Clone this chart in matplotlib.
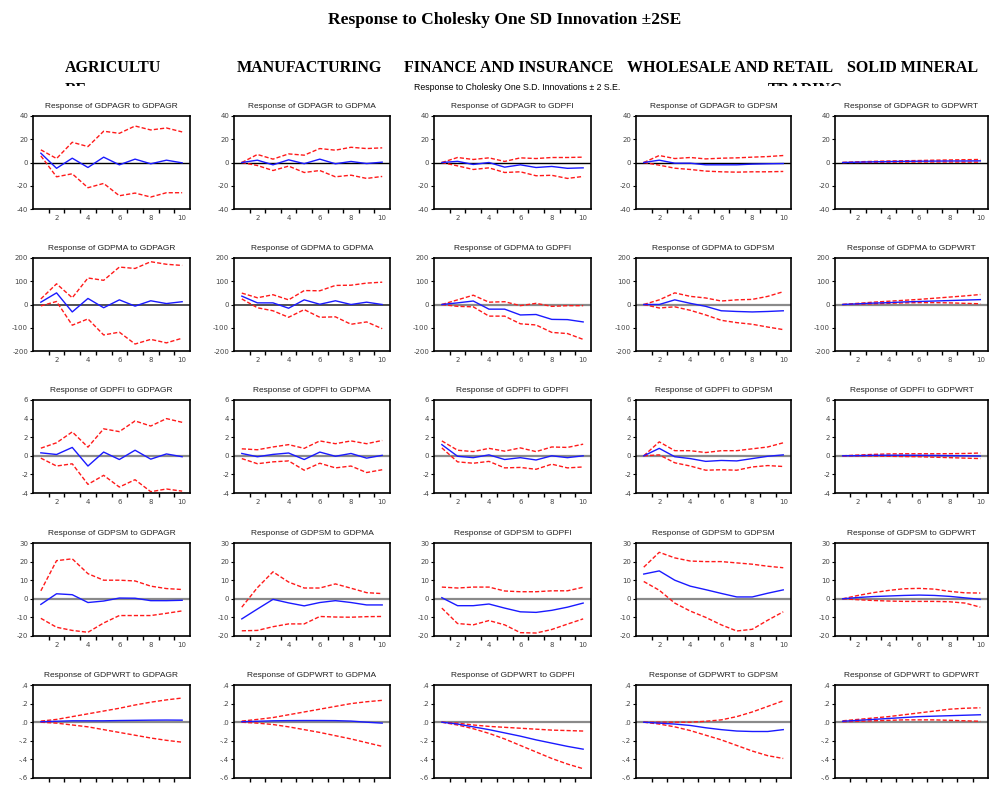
import matplotlib
matplotlib.use("Agg")
import matplotlib.pyplot as plt
import numpy as np
from matplotlib.transforms import Bbox

# ---------------- data ----------------
periods = list(range(1, 11))
shocks = ["GDPAGR", "GDPMA", "GDPFI", "GDPSM", "GDPWRT"]
responses = ["GDPAGR", "GDPMA", "GDPFI", "GDPSM", "GDPWRT"]
headers = ["AGRICULTU", "MANUFACTURING", "FINANCE AND INSURANCE", "WHOLESALE AND RETAIL", "SOLID MINERAL"]
header_overflow = ["RE", "", "", "TRADING", ""]

# Response of GDPAGR (one list per shock)
agr_mid = [[8, -5, 3.7, -4.3, 4.6, -2, 2.9, -1.1, 2, -0.3],
           [0, 2, -2, 2.3, -1, 2.9, -1.1, 0.9, -0.9, 0.3],
           [0, 1, -1.7, 0, -4, -2, -4.3, -3.4, -5, -4.6],
           [0, 2, -0.6, -0.6, -2, -2, -2, -1.4, -1.1, -0.9],
           [0, 0.3, 0.6, 0.8, 1.0, 1.1, 1.2, 1.3, 1.3, 1.4]]
agr_up = [[10.9, 3.4, 17.4, 13.7, 26.9, 25.1, 31.4, 28, 29.7, 26.3],
          [0, 6.9, 2.9, 7.4, 6.3, 12, 10.6, 13.1, 12, 12.6],
          [0, 4.3, 2.6, 4, 0.9, 4, 3.4, 4.3, 4.3, 4.6],
          [0, 6, 3.4, 4.3, 3.1, 3.7, 4, 4.6, 5.1, 6],
          [0, 0.6, 1.0, 1.3, 1.5, 1.7, 2.0, 2.2, 2.4, 2.6]]
agr_lo = [[5.7, -12.3, -9.7, -21.7, -18, -28.6, -26.3, -29.7, -26, -26],
          [0, -2.6, -6.9, -3.1, -8.6, -6.9, -12.3, -10.9, -13.7, -12],
          [0, -2.9, -6, -4.6, -8.6, -8, -11.4, -11, -13.7, -12],
          [0, -2.3, -4.9, -6, -7.4, -8, -8.3, -8, -8, -7.7],
          [0, 0.0, 0.1, 0.2, 0.3, 0.4, 0.4, 0.4, 0.3, 0.3]]

# Response of GDPMA
ma_mid = [[10, 50, -32, 26, -14, 20, -7, 16, 4, 12],
          [36, 7, 7, -16, 20, 1, 16, 0, 10, 0],
          [0, 7, 15, -20, -20, -45, -43, -64, -65, -75],
          [0, 0, 20, 5, -8, -27, -30, -32, -30, -27],
          [0, 3, 6, 8, 11, 13, 15, 17, 19, 21]]
ma_up = [[24, 89, 29, 114, 104, 161, 155, 184, 173, 168],
         [49, 29, 42, 20, 60, 59, 82, 83, 92, 96],
         [0, 20, 40, 10, 12, -5, 5, -8, -5, -5],
         [0, 20, 50, 35, 28, 15, 20, 22, 35, 55],
         [0, 5, 10, 14, 18, 22, 27, 32, 37, 43]]
ma_lo = [[-6, 13, -89, -62, -131, -119, -170, -150, -165, -145],
         [24, -14, -27, -55, -22, -55, -53, -85, -75, -104],
         [0, -8, -10, -50, -50, -83, -88, -120, -125, -150],
         [0, -15, -10, -25, -45, -68, -78, -85, -97, -108],
         [0, 1, 3, 5, 7, 8, 8, 7, 5, 3]]

# Response of GDPFI
fi_mid = [[0.32, 0.14, 0.9, -1.1, 0.4, -0.4, 0.6, -0.36, 0.2, -0.1],
          [0.25, -0.1, 0.15, 0.3, -0.4, 0.4, -0.05, 0.25, -0.25, 0.05],
          [1.2, -0.05, -0.2, 0.1, -0.4, -0.2, -0.45, 0.0, -0.2, 0.0],
          [0, 0.8, -0.1, -0.3, -0.6, -0.5, -0.55, -0.3, -0.05, 0.1],
          [0, 0.02, 0.05, 0.06, 0.06, 0.05, 0.04, 0.02, 0.0, -0.02]]
fi_up = [[0.82, 1.4, 2.57, 0.93, 2.9, 2.6, 3.75, 3.2, 4.0, 3.6],
         [0.75, 0.65, 0.95, 1.2, 0.8, 1.6, 1.3, 1.6, 1.3, 1.65],
         [1.6, 0.6, 0.45, 0.8, 0.5, 0.85, 0.45, 0.95, 0.9, 1.25],
         [0, 1.5, 0.55, 0.55, 0.35, 0.55, 0.55, 0.75, 0.95, 1.4],
         [0, 0.08, 0.15, 0.2, 0.22, 0.22, 0.22, 0.23, 0.25, 0.3]]
fi_lo = [[-0.25, -1.1, -0.86, -3.07, -2.1, -3.36, -2.57, -3.86, -3.57, -3.8],
         [-0.3, -0.85, -0.65, -0.55, -1.55, -0.8, -1.3, -1.1, -1.8, -1.5],
         [0.85, -0.65, -0.8, -0.6, -1.3, -1.25, -1.45, -0.9, -1.3, -1.2],
         [0, 0.1, -0.75, -1.1, -1.55, -1.5, -1.55, -1.2, -1.05, -1.15],
         [0, -0.02, -0.02, -0.05, -0.08, -0.1, -0.15, -0.2, -0.25, -0.3]]

# Response of GDPSM
sm_mid = [[-3, 2.7, 2.2, -2, -1.2, 0.4, 0.3, -1, -1, -0.8],
          [-10.8, -5.5, -0.3, -2.2, -3.8, -2, -1, -2, -3.3, -3.3],
          [0.6, -3.7, -3.7, -2.8, -5, -7, -7.3, -6.2, -4.5, -2.3],
          [13.3, 15, 10, 6.8, 4.9, 2.9, 1, 1, 3, 4.8],
          [0, 0.7, 1.2, 1.5, 1.8, 2.0, 1.8, 1.3, 0.5, -0.3]]
sm_up = [[4.3, 20.5, 21.5, 13.5, 10, 10, 9.6, 6.8, 5.5, 5],
         [-4.5, 6, 14.5, 9, 5.8, 5.8, 8, 5.7, 3.3, 2.8],
         [6.3, 5.8, 6.3, 6.3, 4.2, 3.8, 3.8, 4.3, 4.3, 6.2],
         [17, 25, 22, 20.3, 20, 20, 19.3, 18.6, 17.5, 16.7],
         [0, 1.8, 3.3, 4.5, 5.4, 5.6, 5.2, 4.0, 3.2, 3.1]]
sm_lo = [[-10.5, -15.3, -17, -18, -13, -9, -9, -9, -7.8, -6.5],
         [-17.2, -17, -15, -13.5, -13.5, -9.5, -9.8, -9.9, -9.6, -9.5],
         [-5, -13.3, -14, -11.7, -14, -18.2, -18.4, -16.5, -13.6, -10.8],
         [9.3, 4.6, -2.3, -6.6, -10, -14, -17.3, -16.4, -11.5, -7],
         [0, -0.5, -0.9, -1.2, -1.4, -1.4, -1.4, -1.6, -2.3, -4.5]]

# Response of GDPWRT
wrt_mid = [[0.005, 0.01, 0.015, 0.015, 0.015, 0.018, 0.02, 0.022, 0.023, 0.022],
           [0.005, 0.01, 0.015, 0.017, 0.018, 0.018, 0.017, 0.012, 0.0, -0.01],
           [0, -0.02, -0.05, -0.08, -0.115, -0.15, -0.19, -0.225, -0.26, -0.29],
           [0, -0.01, -0.02, -0.035, -0.06, -0.08, -0.095, -0.1, -0.1, -0.08],
           [0.01, 0.02, 0.03, 0.04, 0.05, 0.06, 0.065, 0.07, 0.075, 0.08]]
wrt_up = [[0.012, 0.03, 0.06, 0.09, 0.12, 0.15, 0.185, 0.215, 0.24, 0.26],
          [0.012, 0.03, 0.05, 0.08, 0.11, 0.14, 0.17, 0.2, 0.22, 0.235],
          [0, -0.01, -0.03, -0.045, -0.055, -0.065, -0.075, -0.085, -0.09, -0.095],
          [0, 0.0, 0.0, 0.0, 0.01, 0.025, 0.06, 0.11, 0.17, 0.23],
          [0.015, 0.03, 0.045, 0.06, 0.08, 0.1, 0.12, 0.14, 0.15, 0.155]]
wrt_lo = [[0.0, -0.01, -0.03, -0.05, -0.08, -0.11, -0.14, -0.17, -0.195, -0.215],
          [0.0, -0.01, -0.025, -0.05, -0.08, -0.11, -0.145, -0.18, -0.22, -0.26],
          [0, -0.03, -0.07, -0.12, -0.18, -0.25, -0.32, -0.39, -0.45, -0.5],
          [0, -0.02, -0.05, -0.09, -0.14, -0.19, -0.25, -0.31, -0.36, -0.39],
          [0.005, 0.01, 0.015, 0.02, 0.025, 0.025, 0.025, 0.02, 0.015, 0.01]]

row_ticks = [[-40, -20, 0, 20, 40],
             [-200, -100, 0, 100, 200],
             [-4, -2, 0, 2, 4, 6],
             [-20, -10, 0, 10, 20, 30],
             [-0.6, -0.4, -0.2, 0.0, 0.2, 0.4]]
wrt_tick_labels = ["-.6", "-.4", "-.2", ".0", ".2", ".4"]
x_tick_labels = ["2", "4", "6", "8", "10"]

mids = [agr_mid, ma_mid, fi_mid, sm_mid, wrt_mid]
ups = [agr_up, ma_up, fi_up, sm_up, wrt_up]
los = [agr_lo, ma_lo, fi_lo, sm_lo, wrt_lo]

# ---------------- layout ----------------
W, H = 990, 785
fig = plt.figure(figsize=(W / 100, H / 100), dpi=100)
fig.patch.set_facecolor("white")

col_left = [33, 234, 434, 636, 835]
col_w = [157, 156, 157, 155, 153]
row_top = [116, 258, 400, 543, 685]
row_h = 93

SANS = "Liberation Sans"
SERIF = "Liberation Serif"

fig.text(505 / W, 1 - 20 / H, "Response to Cholesky One SD Innovation \u00b12SE",
         ha="center", va="center", family=SERIF, weight="bold", size=12.5)

# column headers (second lines are clipped as in the original text boxes)
hdr_x = [65, 309.5, 509, 730.5, 913]
hdr_ha = ["left", "center", "center", "center", "center"]
over_x = [65, 0, 0, 805, 0]
over_ha = ["left", "center", "center", "center", "center"]
for i, h in enumerate(headers):
    fig.text(hdr_x[i] / W, 1 - 68 / H, h, ha=hdr_ha[i], va="center",
             family=SERIF, weight="bold", size=11.5)
    if header_overflow[i]:
        t2 = fig.text(over_x[i] / W, 1 - 94 / H, header_overflow[i], ha=over_ha[i],
                      va="baseline", family=SERIF, weight="bold", size=11.5)
        t2.set_clip_on(True)
        t2.set_clip_box(Bbox.from_extents(over_x[i] - 80, H - 86, over_x[i] + 80, H - 72))

fig.text(517 / W, 1 - 88 / H, "Response to Cholesky One S.D. Innovations \u00b1 2 S.E.",
         ha="center", va="center", family=SANS, size=6.3)

for r in range(5):
    for c in range(5):
        left, w = col_left[c], col_w[c]
        top = row_top[r]
        ax = fig.add_axes([left / W, 1 - (top + row_h) / H, w / W, row_h / H])
        x = np.array(periods)
        if r == 0:
            zc, zlw = "black", 1.0
        elif r == 1 and c < 2:
            zc, zlw = "#333333", 1.2
        else:
            zc, zlw = "#8a8a8a", 1.6
        ax.axhline(0, color=zc, lw=zlw, zorder=1)
        ax.plot(x, ups[r][c], color="#ff1a1a", lw=1.0, ls=(0, (3, 1.5)), zorder=2)
        ax.plot(x, los[r][c], color="#ff1a1a", lw=1.0, ls=(0, (3, 1.5)), zorder=2)
        ax.plot(x, mids[r][c], color="#1a1aff", lw=1.0, zorder=3)
        ax.set_xlim(0.5, 10.5)
        yt = row_ticks[r]
        ax.set_ylim(yt[0], yt[-1])
        ax.set_yticks(yt)
        if r == 4:
            ax.set_yticklabels(wrt_tick_labels)
        else:
            ax.set_yticklabels([str(v) for v in yt])
        ax.set_xticks([2, 4, 6, 8, 10])
        ax.set_xticklabels(x_tick_labels)
        ax.set_xticks(np.arange(1.5, 10.5, 1.0), minor=True)
        # bottom row: period labels fall below the edge of the picture
        ax.tick_params(axis="x", which="major", length=0, labelsize=5,
                       labelcolor="#444444", pad=4, labelbottom=(r < 4))
        ax.tick_params(axis="x", which="minor", length=3, width=1.0,
                       direction="out", color="black")
        ax.tick_params(axis="y", which="major", length=2, width=0.8,
                       direction="out", labelsize=5, labelcolor="#444444", pad=1.5)
        for s in ax.spines.values():
            s.set_linewidth(1.2)
            s.set_color("black")
        ax.set_title("Response of %s to %s" % (responses[r], shocks[c]),
                     family=SANS, size=6, pad=6, color="#222222")

fig.savefig("out.png", dpi=100)
